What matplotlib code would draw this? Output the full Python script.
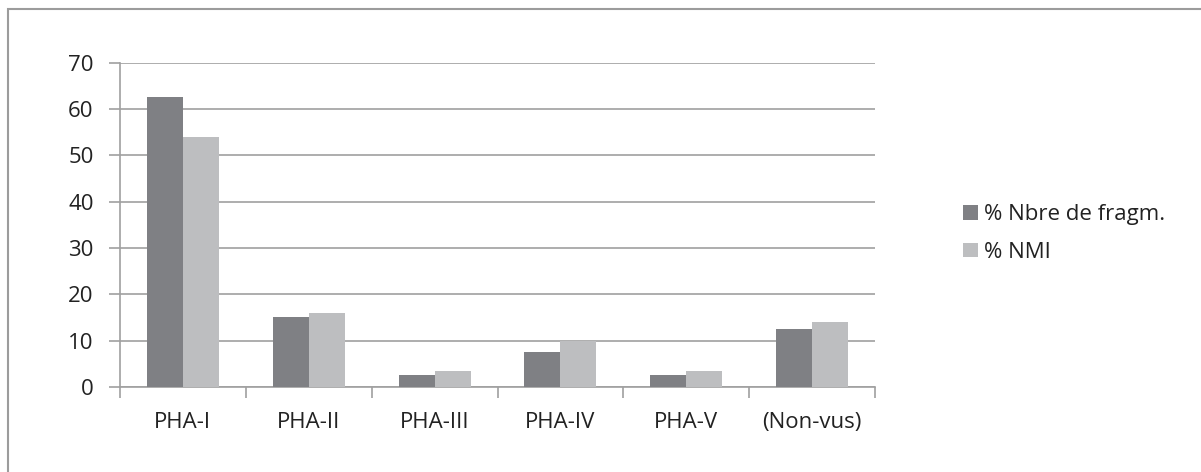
import numpy as np
import matplotlib.pyplot as plt
from matplotlib.patches import Rectangle

# Chart data
categories = ["PHA-I", "PHA-II", "PHA-III", "PHA-IV", "PHA-V", "(Non-vus)"]
nbre_fragm = [62.5, 15, 2.5, 7.5, 2.5, 12.5]
nmi = [54, 16, 3.5, 10, 3.5, 14]
series_labels = ["% Nbre de fragm.", "% NMI"]

plt.rcParams['font.family'] = ['Open Sans', 'DejaVu Sans']

W, H = 1201, 472
fig = plt.figure(figsize=(W / 100, H / 100), dpi=100)

# outer chart border (only top/left visible in the crop)
fig.patches.append(Rectangle((7.5 / W, -0.1), 1.2, 1.1 - 9.5 / H,
                             transform=fig.transFigure, fill=False,
                             edgecolor='#9c9c9c', linewidth=1.5))

left, right = 120 / W, 875 / W
bottom, top = 1 - 387 / H, 1 - 62.5 / H
ax = fig.add_axes([left, bottom, right - left, top - bottom])

x = np.arange(len(categories))
w = 0.2857
ax.bar(x - w / 2, nbre_fragm, width=w, color='#7f8084', label=series_labels[0], zorder=3)
ax.bar(x + w / 2, nmi, width=w, color='#bdbec0', label=series_labels[1], zorder=3)

ax.set_xlim(-0.5, len(categories) - 0.5)
ax.set_ylim(0, 70)
ax.set_yticks(range(0, 71, 10))
ax.yaxis.grid(True, color='#a0a0a0', linewidth=1.2, zorder=0)
ax.set_axisbelow(True)

ax.set_xticks(x)
ax.set_xticklabels(categories)
ax.set_xticks(np.arange(-0.5, len(categories)), minor=True)
ax.tick_params(axis='x', which='major', length=0, pad=18, labelsize=16, labelcolor='#222222')
ax.tick_params(axis='x', which='minor', length=8, width=1.2, color='#a0a0a0')
ax.tick_params(axis='y', length=8, width=1.2, color='#a0a0a0', pad=11, labelsize=16,
               labelcolor='#222222')

for s in ['top', 'right']:
    ax.spines[s].set_visible(False)
for s in ['left', 'bottom']:
    ax.spines[s].set_color('#a0a0a0')
    ax.spines[s].set_linewidth(1.2)

fig.legend(loc='upper left', bbox_to_anchor=(952 / W, 1 - 193 / H), frameon=False,
           fontsize=16, handlelength=0.65, handleheight=0.65, handletextpad=0.3,
           labelspacing=0.75, borderpad=0, labelcolor='#222222')

fig.savefig("out.png", dpi=100)
